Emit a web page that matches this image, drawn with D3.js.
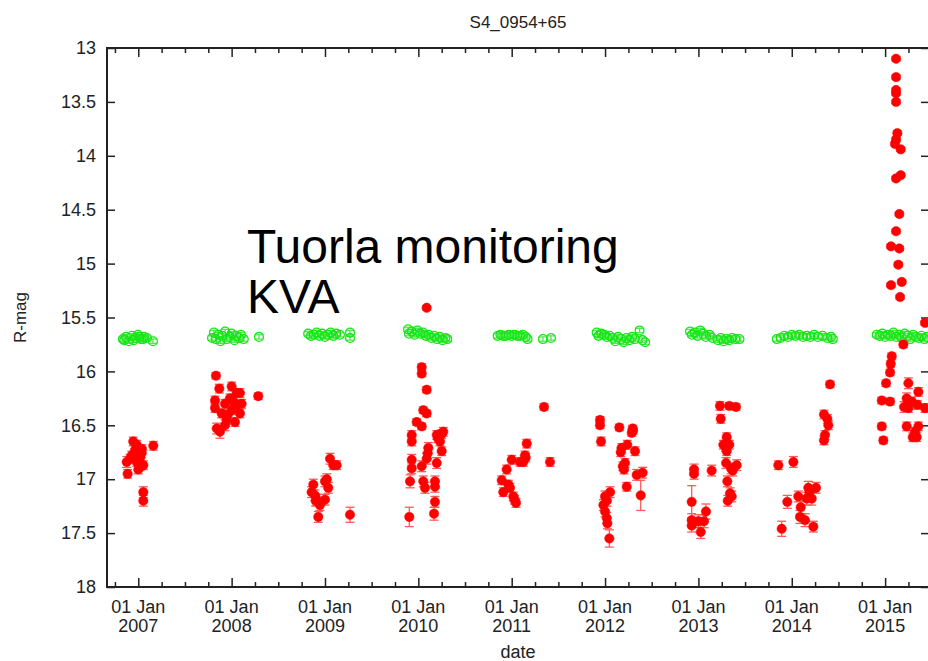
<!DOCTYPE html>
<html>
<head>
<meta charset="utf-8">
<script src="https://cdn.jsdelivr.net/npm/d3@7"></script>
<style>
  html, body { margin: 0; padding: 0; background: #fff; }
  svg { display: block; font-family: "Liberation Sans", Arial, sans-serif; }
</style>
</head>
<body>
<svg id="chart" width="928" height="661"></svg>
<script>
// ---- data (x: decimal year, y: R-mag, e: error) ----
const chartTitle = "S4_0954+65";
const xLabel = "date";
const yLabel = "R-mag";
const annotationLines = ["Tuorla monitoring", "KVA"];
const yTicks = [13, 13.5, 14, 14.5, 15, 15.5, 16, 16.5, 17, 17.5, 18];
const xTickYears = [2007, 2008, 2009, 2010, 2011, 2012, 2013, 2014, 2015];
const xMinorTicks = [2006.75, 2007.25, 2007.5, 2007.75, 2008.25, 2008.5, 2008.75, 2009.25, 2009.5, 2009.75,
  2010.25, 2010.5, 2010.75, 2011.25, 2011.5, 2011.75, 2012.25, 2012.5, 2012.75, 2013.25, 2013.5, 2013.75,
  2014.25, 2014.5, 2014.75, 2015.25];

// target (red, filled)
const targetMag = [
  [2006.946,16.65,0.04],[2006.983,16.68,0.04],[2006.965,16.73,0.04],[2007.036,16.76,0.04],[2006.876,16.84,0.05],
  [2006.911,16.81,0.04],[2006.983,16.84,0.04],[2007.018,16.88,0.04],[2007.054,16.87,0.04],[2006.886,16.95,0.04],
  [2007.000,16.91,0.04],[2007.161,16.69,0.04],[2007.054,17.12,0.05],[2007.054,17.20,0.05],[2006.93,16.78,0.04],
  [2007.04,16.72,0.04],[2007.02,16.80,0.04],
  [2007.832,16.04,0.03],[2007.868,16.16,0.04],[2008.000,16.14,0.04],[2008.089,16.20,0.04],[2007.822,16.27,0.04],
  [2007.929,16.30,0.04],[2007.982,16.25,0.04],[2008.054,16.31,0.04],[2007.822,16.34,0.04],[2007.893,16.39,0.04],
  [2008.000,16.36,0.04],[2008.089,16.39,0.04],[2007.947,16.45,0.04],[2008.036,16.47,0.04],[2007.840,16.53,0.05],
  [2007.929,16.50,0.05],[2007.875,16.56,0.06],[2008.285,16.23,0.03],[2008.054,16.20,0.04],[2008.107,16.30,0.04],
  [2007.96,16.40,0.04],[2008.02,16.28,0.04],
  [2008.875,17.05,0.05],[2008.857,17.12,0.05],[2008.893,17.15,0.05],[2008.911,17.19,0.05],[2008.946,17.24,0.05],
  [2009.000,17.19,0.05],[2008.928,17.35,0.05],[2009.000,17.02,0.05],[2009.035,17.08,0.05],[2009.054,16.81,0.05],
  [2009.089,16.87,0.04],[2009.125,16.87,0.04],[2009.268,17.33,0.07],[2008.90,17.20,0.05],[2009.02,17.00,0.05],
  [2010.089,15.41,0.02],[2010.036,15.96,0.03],[2010.036,16.02,0.03],[2010.089,16.17,0.03],[2010.053,16.36,0.03],
  [2010.089,16.39,0.03],[2009.982,16.47,0.03],[2010.036,16.51,0.03],[2009.929,16.59,0.04],[2009.929,16.65,0.04],
  [2010.197,16.59,0.04],[2010.267,16.56,0.04],[2010.232,16.65,0.04],[2010.250,16.74,0.04],[2010.107,16.71,0.05],
  [2010.089,16.81,0.05],[2009.929,16.82,0.05],[2009.929,16.90,0.05],[2010.036,16.88,0.05],[2010.197,16.85,0.05],
  [2009.911,17.02,0.06],[2010.053,17.02,0.05],[2010.071,17.08,0.05],[2010.178,17.02,0.05],[2010.178,17.07,0.05],
  [2010.178,17.21,0.05],[2010.168,17.32,0.06],[2009.903,17.35,0.09],[2010.21,16.62,0.04],[2010.25,16.58,0.04],
  [2010.10,16.76,0.05],
  [2011.346,16.33,0.03],[2011.410,16.84,0.04],[2011.161,16.67,0.04],[2011.142,16.78,0.04],[2011.124,16.84,0.04],
  [2011.089,16.84,0.04],[2011.000,16.82,0.04],[2010.946,16.91,0.04],[2010.893,17.01,0.04],[2010.910,17.12,0.04],
  [2010.964,17.05,0.04],[2010.982,17.08,0.04],[2011.017,17.16,0.04],[2011.046,17.22,0.04],[2011.15,16.80,0.04],
  [2011.03,17.19,0.04],
  [2011.946,16.45,0.03],[2011.946,16.50,0.03],[2011.957,16.65,0.04],[2012.153,16.52,0.03],[2012.296,16.53,0.03],
  [2012.286,16.57,0.03],[2012.238,16.68,0.04],[2012.178,16.71,0.04],[2012.168,16.75,0.04],[2012.321,16.74,0.04],
  [2012.214,16.85,0.04],[2012.203,16.91,0.04],[2012.232,17.07,0.04],[2012.339,16.96,0.05],[2012.403,16.94,0.05],
  [2012.382,17.15,0.14],[2012.000,17.16,0.05],[2012.054,17.12,0.05],[2011.982,17.24,0.05],[2012.000,17.30,0.05],
  [2012.018,17.36,0.05],[2012.025,17.41,0.05],[2012.046,17.55,0.08],[2012.02,17.20,0.05],[2012.19,16.88,0.04],
  [2012.30,16.55,0.03],
  [2013.231,16.32,0.04],[2013.331,16.32,0.03],[2013.403,16.33,0.03],[2013.239,16.44,0.04],[2013.303,16.61,0.04],
  [2013.267,16.68,0.04],[2013.331,16.68,0.04],[2013.303,16.74,0.04],[2013.296,16.85,0.05],[2013.410,16.87,0.05],
  [2013.367,16.92,0.05],[2013.310,17.02,0.05],[2013.339,17.13,0.05],[2013.357,17.16,0.05],[2013.314,17.20,0.05],
  [2012.953,16.91,0.05],[2012.953,16.95,0.05],[2013.142,16.92,0.05],[2012.928,17.21,0.15],[2013.081,17.30,0.07],
  [2012.928,17.38,0.06],[2012.928,17.43,0.06],[2013.000,17.39,0.06],[2013.060,17.39,0.06],[2013.025,17.49,0.06],
  [2013.29,16.70,0.04],[2013.35,16.90,0.05],
  [2014.410,16.12,0.03],[2014.345,16.40,0.04],[2014.381,16.44,0.04],[2014.392,16.50,0.04],[2014.356,16.59,0.04],
  [2014.345,16.64,0.04],[2013.856,16.87,0.04],[2014.017,16.84,0.05],[2013.952,17.21,0.06],[2014.070,17.16,0.05],
  [2014.096,17.26,0.06],[2014.088,17.35,0.06],[2014.142,17.38,0.06],[2014.160,17.18,0.06],[2014.177,17.08,0.06],
  [2014.214,17.18,0.06],[2014.260,17.08,0.05],[2014.231,17.44,0.05],[2013.892,17.46,0.07],[2014.19,17.12,0.06],
  [2015.117,13.10,0.02],[2015.117,13.27,0.02],[2015.117,13.39,0.02],[2015.117,13.42,0.02],[2015.117,13.50,0.02],
  [2015.131,13.79,0.02],[2015.117,13.85,0.02],[2015.106,13.89,0.02],[2015.167,13.94,0.02],[2015.167,14.18,0.02],
  [2015.117,14.21,0.02],[2015.152,14.54,0.02],[2015.117,14.70,0.02],[2015.063,14.84,0.02],[2015.152,14.86,0.02],
  [2015.141,15.01,0.02],[2015.063,15.20,0.02],[2015.178,15.17,0.02],[2015.160,15.31,0.02],[2015.427,15.55,0.02],
  [2015.195,15.75,0.03],[2015.071,15.86,0.03],[2015.060,15.93,0.03],[2015.053,16.01,0.03],[2015.010,16.11,0.03],
  [2014.964,16.27,0.03],[2015.053,16.28,0.03],[2015.249,16.11,0.05],[2015.356,16.19,0.04],[2015.231,16.25,0.05],
  [2015.285,16.28,0.04],[2015.345,16.31,0.04],[2015.202,16.33,0.05],[2015.249,16.34,0.04],[2015.427,16.34,0.04],
  [2014.964,16.51,0.03],[2014.981,16.64,0.03],[2015.231,16.51,0.04],[2015.320,16.56,0.04],[2015.356,16.51,0.04],
  [2015.338,16.61,0.04],[2015.296,16.61,0.04]
];

// comparison star (green, open)
const comparisonMag = [
  [2006.836,15.70,0.02],[2006.85,15.71,0.02],[2006.868,15.68,0.02],[2006.900,15.72,0.02],[2006.933,15.67,0.02],
  [2006.95,15.71,0.02],[2006.965,15.69,0.02],[2006.997,15.66,0.02],[2007.01,15.68,0.02],[2007.029,15.70,0.02],
  [2007.05,15.70,0.02],[2007.061,15.68,0.02],[2007.093,15.69,0.02],[2007.157,15.72,0.02],
  [2007.79,15.69,0.02],[2007.81,15.64,0.02],[2007.83,15.70,0.02],[2007.86,15.66,0.02],[2007.88,15.72,0.02],
  [2007.90,15.67,0.02],[2007.93,15.63,0.02],[2007.95,15.70,0.02],[2007.98,15.68,0.02],[2008.00,15.65,0.02],
  [2008.03,15.71,0.02],[2008.05,15.67,0.02],[2008.08,15.69,0.02],[2008.10,15.66,0.02],[2008.13,15.70,0.02],
  [2008.293,15.68,0.02],
  [2008.82,15.65,0.02],[2008.85,15.67,0.02],[2008.88,15.66,0.02],[2008.91,15.64,0.02],[2008.94,15.67,0.02],
  [2008.97,15.65,0.02],[2009.00,15.68,0.02],[2009.03,15.66,0.02],[2009.06,15.64,0.02],[2009.09,15.67,0.02],
  [2009.12,15.65,0.02],[2009.16,15.66,0.02],[2009.268,15.64,0.02],[2009.268,15.69,0.02],
  [2009.89,15.61,0.02],[2009.90,15.65,0.02],[2009.93,15.63,0.02],[2009.96,15.66,0.02],[2009.99,15.62,0.02],
  [2010.02,15.65,0.02],[2010.05,15.64,0.02],[2010.08,15.67,0.02],[2010.11,15.66,0.02],[2010.14,15.69,0.02],
  [2010.17,15.67,0.02],[2010.20,15.70,0.02],[2010.23,15.68,0.02],[2010.26,15.71,0.02],[2010.29,15.69,0.02],
  [2010.31,15.70,0.02],
  [2010.85,15.67,0.02],[2010.88,15.66,0.02],[2010.91,15.67,0.02],[2010.94,15.67,0.02],[2010.97,15.66,0.02],
  [2011.00,15.67,0.02],[2011.03,15.66,0.02],[2011.06,15.67,0.02],[2011.09,15.67,0.02],[2011.12,15.66,0.02],
  [2011.15,15.68,0.02],[2011.17,15.70,0.02],[2011.335,15.70,0.02],[2011.421,15.69,0.02],
  [2011.91,15.64,0.02],[2011.93,15.67,0.02],[2011.96,15.65,0.02],[2011.99,15.66,0.02],[2012.02,15.68,0.02],
  [2012.05,15.67,0.02],[2012.08,15.69,0.02],[2012.11,15.72,0.02],[2012.14,15.68,0.02],[2012.17,15.70,0.02],
  [2012.20,15.73,0.02],[2012.23,15.69,0.02],[2012.26,15.71,0.02],[2012.29,15.68,0.02],[2012.32,15.70,0.02],
  [2012.37,15.62,0.02],[2012.40,15.71,0.02],[2012.43,15.73,0.02],
  [2012.91,15.63,0.02],[2012.93,15.66,0.02],[2012.96,15.64,0.02],[2012.99,15.67,0.02],[2013.02,15.62,0.02],
  [2013.05,15.65,0.02],[2013.08,15.68,0.02],[2013.12,15.66,0.02],[2013.15,15.69,0.02],[2013.21,15.71,0.02],
  [2013.24,15.69,0.02],[2013.27,15.72,0.02],[2013.30,15.70,0.02],[2013.33,15.71,0.02],[2013.36,15.69,0.02],
  [2013.40,15.70,0.02],[2013.44,15.70,0.02],
  [2013.84,15.70,0.02],[2013.88,15.69,0.02],[2013.92,15.67,0.02],[2013.96,15.68,0.02],[2014.00,15.66,0.02],
  [2014.04,15.67,0.02],[2014.08,15.66,0.02],[2014.12,15.68,0.02],[2014.16,15.67,0.02],[2014.20,15.68,0.02],
  [2014.24,15.66,0.02],[2014.28,15.68,0.02],[2014.33,15.67,0.02],[2014.38,15.69,0.02],[2014.42,15.68,0.02],
  [2014.44,15.70,0.02],
  [2014.91,15.66,0.02],[2014.94,15.67,0.02],[2014.97,15.65,0.02],[2015.00,15.68,0.02],[2015.03,15.66,0.02],
  [2015.06,15.67,0.02],[2015.09,15.64,0.02],[2015.12,15.68,0.02],[2015.15,15.66,0.02],[2015.18,15.69,0.02],
  [2015.21,15.65,0.02],[2015.24,15.67,0.02],[2015.27,15.70,0.02],[2015.30,15.66,0.02],[2015.33,15.68,0.02],
  [2015.36,15.69,0.02],[2015.39,15.67,0.02],[2015.42,15.70,0.02],[2015.45,15.68,0.02]
];

// ---- layout ----
const svg = d3.select("#chart");
const pLeft = 107, pRight = 929, pTop = 48, pBottom = 587;
const x = d3.scaleLinear().domain([2006.665, 2015.47]).range([pLeft, pRight]);
const y = d3.scaleLinear().domain([13, 18]).range([pTop, pBottom]);
const axisColor = "#222";

// title
svg.append("text").attr("x", (pLeft + pRight) / 2).attr("y", 28).attr("text-anchor", "middle")
  .attr("font-size", 17).attr("fill", "#222").text(chartTitle);

// clip
svg.append("clipPath").attr("id", "plotclip").append("rect")
  .attr("x", pLeft).attr("y", pTop).attr("width", pRight - pLeft).attr("height", pBottom - pTop);

function styleAxis(g) {
  g.select(".domain").remove();
  g.selectAll(".tick line").attr("stroke", axisColor).attr("stroke-width", 1.5);
}

// bottom major
svg.append("g").attr("transform", `translate(0,${pBottom})`)
  .call(d3.axisBottom(x).tickValues(xTickYears).tickSize(-9).tickFormat(""))
  .call(styleAxis);
// bottom minor
svg.append("g").attr("transform", `translate(0,${pBottom})`)
  .call(d3.axisBottom(x).tickValues(xMinorTicks).tickSize(-5).tickFormat(""))
  .call(styleAxis);
// top major / minor
svg.append("g").attr("transform", `translate(0,${pTop})`)
  .call(d3.axisTop(x).tickValues(xTickYears).tickSize(-9).tickFormat(""))
  .call(styleAxis);
svg.append("g").attr("transform", `translate(0,${pTop})`)
  .call(d3.axisTop(x).tickValues(xMinorTicks).tickSize(-5).tickFormat(""))
  .call(styleAxis);
// left
const gy = svg.append("g").attr("transform", `translate(${pLeft},0)`)
  .call(d3.axisLeft(y).tickValues(yTicks).tickSize(-8).tickPadding(11).tickFormat(d3.format("")))
  .call(styleAxis);
gy.selectAll(".tick text").attr("font-size", 18).attr("fill", "#222")
  .attr("font-family", "'Liberation Sans', Arial, sans-serif");
// right
svg.append("g").attr("transform", `translate(${pRight},0)`)
  .call(d3.axisRight(y).tickValues(yTicks).tickSize(-8).tickFormat(""))
  .call(styleAxis);

// x tick labels
const xl = svg.append("g");
xTickYears.forEach(yr => {
  const t = xl.append("text").attr("text-anchor", "middle").attr("font-size", 18).attr("fill", "#222");
  t.append("tspan").attr("x", x(yr)).attr("y", 613).text("01 Jan");
  t.append("tspan").attr("x", x(yr)).attr("y", 632).text(String(yr));
});

// frame
svg.append("rect").attr("x", pLeft).attr("y", pTop).attr("width", pRight - pLeft).attr("height", pBottom - pTop)
  .attr("fill", "none").attr("stroke", axisColor).attr("stroke-width", 2);

// axis labels
svg.append("text").attr("x", (pLeft + pRight) / 2).attr("y", 658).attr("text-anchor", "middle")
  .attr("font-size", 18).attr("fill", "#222").text(xLabel);
svg.append("text").attr("transform", `translate(26,${(pTop + pBottom) / 2}) rotate(-90)`)
  .attr("text-anchor", "middle").attr("font-size", 17).attr("fill", "#222").text(yLabel);

// annotation
const ann = svg.append("text").attr("font-size", 48).attr("fill", "#000");
annotationLines.forEach((s, i) => {
  ann.append("tspan").attr("x", 247).attr("y", 263 + i * 50).text(s);
});

const plot = svg.append("g").attr("clip-path", "url(#plotclip)");

function drawSeries(data, color, errColor, filled) {
  const g = plot.append("g");
  const eb = g.append("g").attr("stroke", errColor).attr("stroke-width", 1.3);
  data.forEach(d => {
    const cx = x(d[0]), y1 = y(d[1] - d[2]), y2 = y(d[1] + d[2]);
    eb.append("line").attr("x1", cx).attr("x2", cx).attr("y1", y1).attr("y2", y2);
    eb.append("line").attr("x1", cx - 4.5).attr("x2", cx + 4.5).attr("y1", y1).attr("y2", y1);
    eb.append("line").attr("x1", cx - 4.5).attr("x2", cx + 4.5).attr("y1", y2).attr("y2", y2);
  });
  g.append("g").selectAll("circle").data(data).join("circle")
    .attr("cx", d => x(d[0])).attr("cy", d => y(d[1]))
    .attr("r", filled ? 4.7 : 4.4)
    .attr("fill", filled ? color : "none")
    .attr("stroke", color).attr("stroke-width", filled ? 0.5 : 1.3);
}

drawSeries(comparisonMag, "#14e614", "#4eea4e", false);
drawSeries(targetMag, "#ff0000", "#ff5a5a", true);
</script>
</body>
</html>
